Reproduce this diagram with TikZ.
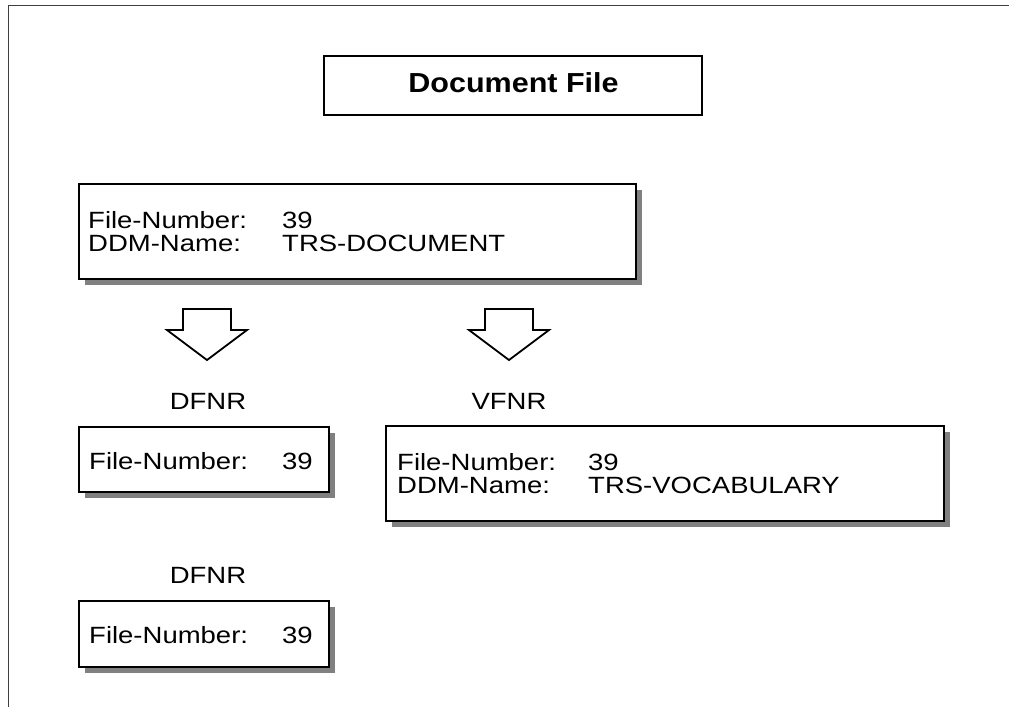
\documentclass[tikz,border=0pt]{standalone}
\usepackage{fontspec}
\setmainfont{Liberation Sans}[FakeStretch=1.17]
\newfontfamily\titlefont{Liberation Sans}[FakeStretch=1.11]
\usetikzlibrary{shadows}

\tikzset{
  frameline/.style={draw=black!75, line width=1pt},
  box/.style={draw, line width=2pt, fill=white, rectangle, inner sep=0pt,
    anchor=north west},
  shadowbox/.style={box, drop shadow={shadow xshift=5.5pt, shadow yshift=-5.5pt,
    fill=black!50, opacity=1}},
  txt/.style={anchor=base west, inner sep=0pt,
    font=\fontsize{23.5}{23}\selectfont},
  lbl/.style={anchor=base, inner sep=0pt,
    font=\fontsize{23.5}{23}\selectfont},
  titletxt/.style={anchor=base, inner sep=0pt,
    font=\titlefont\bfseries\fontsize{27.5}{27.5}\selectfont},
  blockarrow/.style={draw, line width=1.8pt, line join=miter, fill=white},
}

\begin{document}
\begin{tikzpicture}[x=1pt, y=-1pt]
  \useasboundingbox (0,0) rectangle (1009,707);

  % page frame (top and left edges)
  \draw[frameline] (8,707) -- (8,5) -- (1009,5);

  % title
  \node[box, minimum width=378pt, minimum height=59pt] (title) at (323,55) {};
  \node[titletxt] (titleText) at (513.5,92) {Document File};

  % document file record
  \node[shadowbox, minimum width=557pt, minimum height=95pt] (doc) at (78,183) {};
  \node[txt] (docNumKey) at (88,228) {File-Number:};
  \node[txt] (docNumVal) at (282,228) {39};
  \node[txt] (docNameKey) at (88,251) {DDM-Name:};
  \node[txt] (docNameVal) at (282,251) {TRS-DOCUMENT};

  % hollow block arrows
  \coordinate (arrowDfnr) at (207,309);
  \coordinate (arrowVfnr) at (509,309);
  \foreach \c in {arrowDfnr, arrowVfnr}
    \draw[blockarrow] (\c) ++(-24,0) -- ++(48,0) -- ++(0,21) -- ++(16,0)
      -- ++(-40,30) -- ++(-40,-30) -- ++(16,0) -- cycle;

  % DFNR descriptor (first)
  \node[lbl] (dfnrLabelA) at (208,409) {DFNR};
  \node[shadowbox, minimum width=250pt, minimum height=65pt] (dfnrA) at (78,426) {};
  \node[txt] (dfnrANumKey) at (89,469) {File-Number:};
  \node[txt] (dfnrANumVal) at (282,469) {39};

  % VFNR descriptor
  \node[lbl] (vfnrLabel) at (509,409) {VFNR};
  \node[shadowbox, minimum width=558pt, minimum height=95pt] (vfnr) at (385,425) {};
  \node[txt] (vfnrNumKey) at (397,470) {File-Number:};
  \node[txt] (vfnrNumVal) at (588,470) {39};
  \node[txt] (vfnrNameKey) at (397,493) {DDM-Name:};
  \node[txt] (vfnrNameVal) at (588,493) {TRS-VOCABULARY};

  % DFNR descriptor (second)
  \node[lbl] (dfnrLabelB) at (208,583) {DFNR};
  \node[shadowbox, minimum width=250pt, minimum height=66pt] (dfnrB) at (78,600) {};
  \node[txt] (dfnrBNumKey) at (89,643) {File-Number:};
  \node[txt] (dfnrBNumVal) at (282,643) {39};
\end{tikzpicture}
\end{document}
